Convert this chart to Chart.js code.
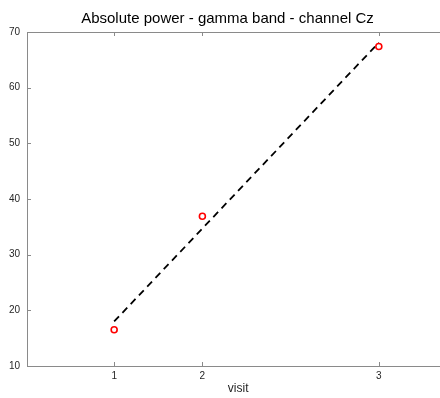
<!DOCTYPE html>
<html>
<head>
<meta charset="utf-8">
<script src="https://cdn.jsdelivr.net/npm/chart.js@4.4.0/dist/chart.umd.min.js"></script>
<style>
  html, body { margin: 0; padding: 0; background: #fff; overflow: hidden; }
  #wrap { width: 455px; height: 398px; }
</style>
</head>
<body>
<div id="wrap"><canvas id="chart" width="455" height="398"></canvas></div>
<script>
// visit positions on the x scale and the labels shown under them
const visitPos = [1, 2, 4];
const visitLabels = ['1', '2', '3'];
// measured absolute gamma power at Cz for each visit
const gammaPower = [16.5, 36.9, 67.4];
// least-squares trend line, end points
const fitX = [1, 4];
const fitY = [18.0, 68.1];

const FONT = '"Liberation Sans", Arial, Helvetica, sans-serif';
const AXIS_GREY = '#8a8a8a';
const TEXT = '#262626';

// box around the axes with short inward ticks, matlab style
const axesBox = {
  id: 'axesBox',
  beforeDatasetsDraw(chart) {
    const { ctx, chartArea: a, scales: { x, y } } = chart;
    const len = 4;
    ctx.save();
    ctx.strokeStyle = AXIS_GREY;
    ctx.lineWidth = 1;
    ctx.beginPath();
    ctx.rect(a.left + 0.5, a.top + 0.5, a.right - a.left, a.bottom - a.top);
    x.ticks.forEach(t => {
      const px = Math.round(x.getPixelForValue(t.value)) + 0.5;
      ctx.moveTo(px, a.bottom); ctx.lineTo(px, a.bottom - len);
      ctx.moveTo(px, a.top); ctx.lineTo(px, a.top + len);
    });
    y.ticks.forEach(t => {
      const py = Math.round(y.getPixelForValue(t.value)) + 0.5;
      ctx.moveTo(a.left, py); ctx.lineTo(a.left + len, py);
      ctx.moveTo(a.right, py); ctx.lineTo(a.right - len, py);
    });
    ctx.stroke();
    ctx.restore();
  }
};

new Chart(document.getElementById('chart'), {
  type: 'scatter',
  data: {
    datasets: [
      {
        label: 'power',
        data: visitPos.map((v, i) => ({ x: v, y: gammaPower[i] })),
        showLine: false,
        pointStyle: 'circle',
        pointRadius: 3,
        pointBorderWidth: 1.6,
        pointBorderColor: '#ff0000',
        pointBackgroundColor: 'rgba(0,0,0,0)'
      },
      {
        label: 'fit',
        type: 'line',
        data: fitX.map((v, i) => ({ x: v, y: fitY[i] })),
        borderColor: '#000',
        borderWidth: 1.8,
        borderDash: [7, 5],
        pointRadius: 0,
        fill: false
      }
    ]
  },
  options: {
    responsive: false,
    animation: false,
    layout: { padding: 0 },
    plugins: {
      legend: { display: false },
      tooltip: { enabled: false },
      title: {
        display: true,
        text: 'Absolute power - gamma band - channel Cz',
        color: '#000',
        font: { family: FONT, size: 15, weight: 'normal' },
        padding: { top: 10, bottom: 4 }
      }
    },
    scales: {
      x: {
        type: 'linear',
        min: 0.012,
        max: 4.8,
        grid: { display: false, drawTicks: false },
        border: { display: false },
        afterBuildTicks: s => { s.ticks = visitPos.map(v => ({ value: v })); },
        afterFit: s => { s.height = 32; },
        ticks: {
          color: TEXT,
          padding: 4,
          font: { family: FONT, size: 10 },
          callback: v => visitLabels[visitPos.indexOf(v)]
        },
        title: {
          display: true,
          text: 'visit',
          color: TEXT,
          font: { family: FONT, size: 12 },
          padding: { top: 0, bottom: 2 }
        }
      },
      y: {
        min: 10,
        max: 70,
        grid: { display: false, drawTicks: false },
        border: { display: false },
        afterFit: s => { s.width = 27; },
        ticks: {
          stepSize: 10,
          color: TEXT,
          padding: 7,
          font: { family: FONT, size: 10 }
        }
      }
    }
  },
  plugins: [axesBox]
});
</script>
</body>
</html>
